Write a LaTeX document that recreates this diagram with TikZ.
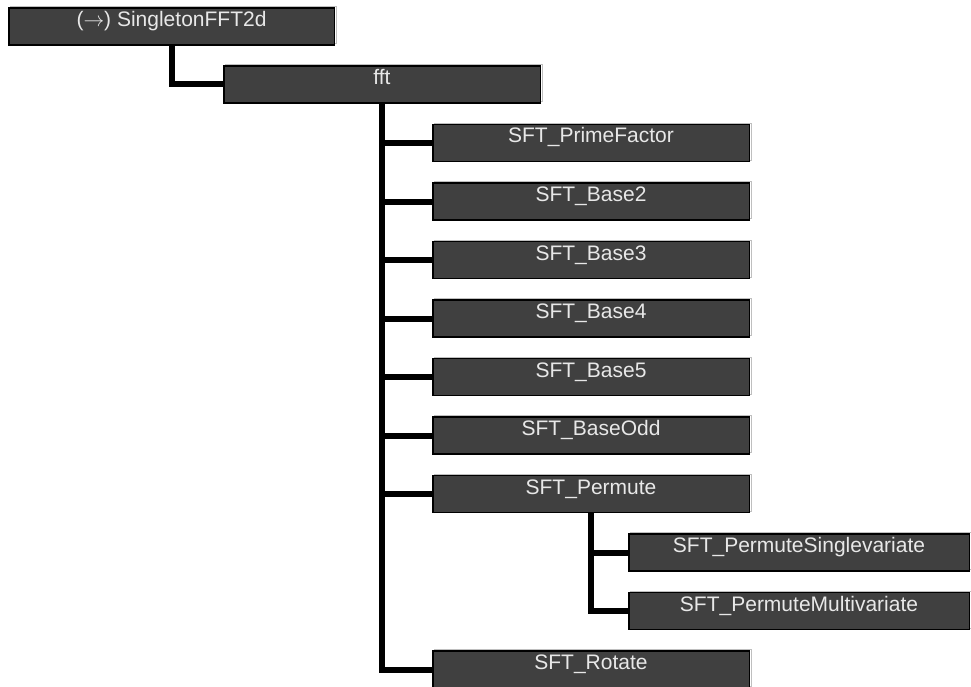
\documentclass[tikz,border=0pt]{standalone}
\usepackage{fontspec}
\setmainfont{Liberation Sans}[Ligatures=NoCommon]
\usepackage{tikz}
\usetikzlibrary{positioning,shadows}

\definecolor{boxgray}{RGB}{64,64,64}
\definecolor{labelgray}{RGB}{232,232,232}

\begin{document}
\begin{tikzpicture}[x=1pt,y=1pt,node distance=58.5pt,
            font=\fontsize{21}{25}\selectfont]
            \tikzstyle{unit}=[draw=black,line width=1.5pt,fill=boxgray,text=labelgray,
                minimum width=316.5pt,minimum height=37pt,inner sep=0pt,
                text height=10pt,text depth=10pt,
                general shadow={shadow xshift=2pt,shadow yshift=1.5pt,
                    draw=gray!50,line width=0.8pt,fill=none}]
            \tikzstyle{branch}=[draw=black,line width=6pt,to path={|- (\tikztotarget)}]
            \useasboundingbox (0,0) rectangle (971,-687);

            \node[unit,minimum width=325.5pt] (single) at (171.5,-26.5) {($\rightarrow$) SingletonFFT2d};
            \node[unit] (fft) at (382,-84.5) {fft};
            \node[unit] (prime) [below of=fft,xshift=209pt] {SFT\_PrimeFactor};
            \node[unit] (base2) [below of=prime] {SFT\_Base2};
            \node[unit] (base3) [below of=base2] {SFT\_Base3};
            \node[unit] (base4) [below of=base3] {SFT\_Base4};
            \node[unit] (base5) [below of=base4] {SFT\_Base5};
            \node[unit] (baseodd) [below of=base5] {SFT\_BaseOdd};
            \node[unit] (permute) [below of=baseodd] {SFT\_Permute};
            \node[unit,minimum width=340.5pt] (psingle) [below of=permute,xshift=208pt] {SFT\_PermuteSinglevariate};
            \node[unit,minimum width=340.5pt] (pmulti) [below of=psingle] {SFT\_PermuteMultivariate};
            \node[unit] (rotate) [below of=pmulti,xshift=-208pt] {SFT\_Rotate};

            \path
                % from SingletonFFT2d
                (single.south) edge [branch] (fft.west)

                % from fft
                (fft.south) edge [branch] (prime.west)
                (fft.south) edge [branch] (base2.west)
                (fft.south) edge [branch] (base3.west)
                (fft.south) edge [branch] (base4.west)
                (fft.south) edge [branch] (base5.west)
                (fft.south) edge [branch] (baseodd.west)
                (fft.south) edge [branch] (permute.west)
                (fft.south) edge [branch] (rotate.west)

                % from SFT_Permute
                (permute.south) edge [branch] (psingle.west)
                (permute.south) edge [branch] (pmulti.west)
                ;
\end{tikzpicture}
\end{document}
